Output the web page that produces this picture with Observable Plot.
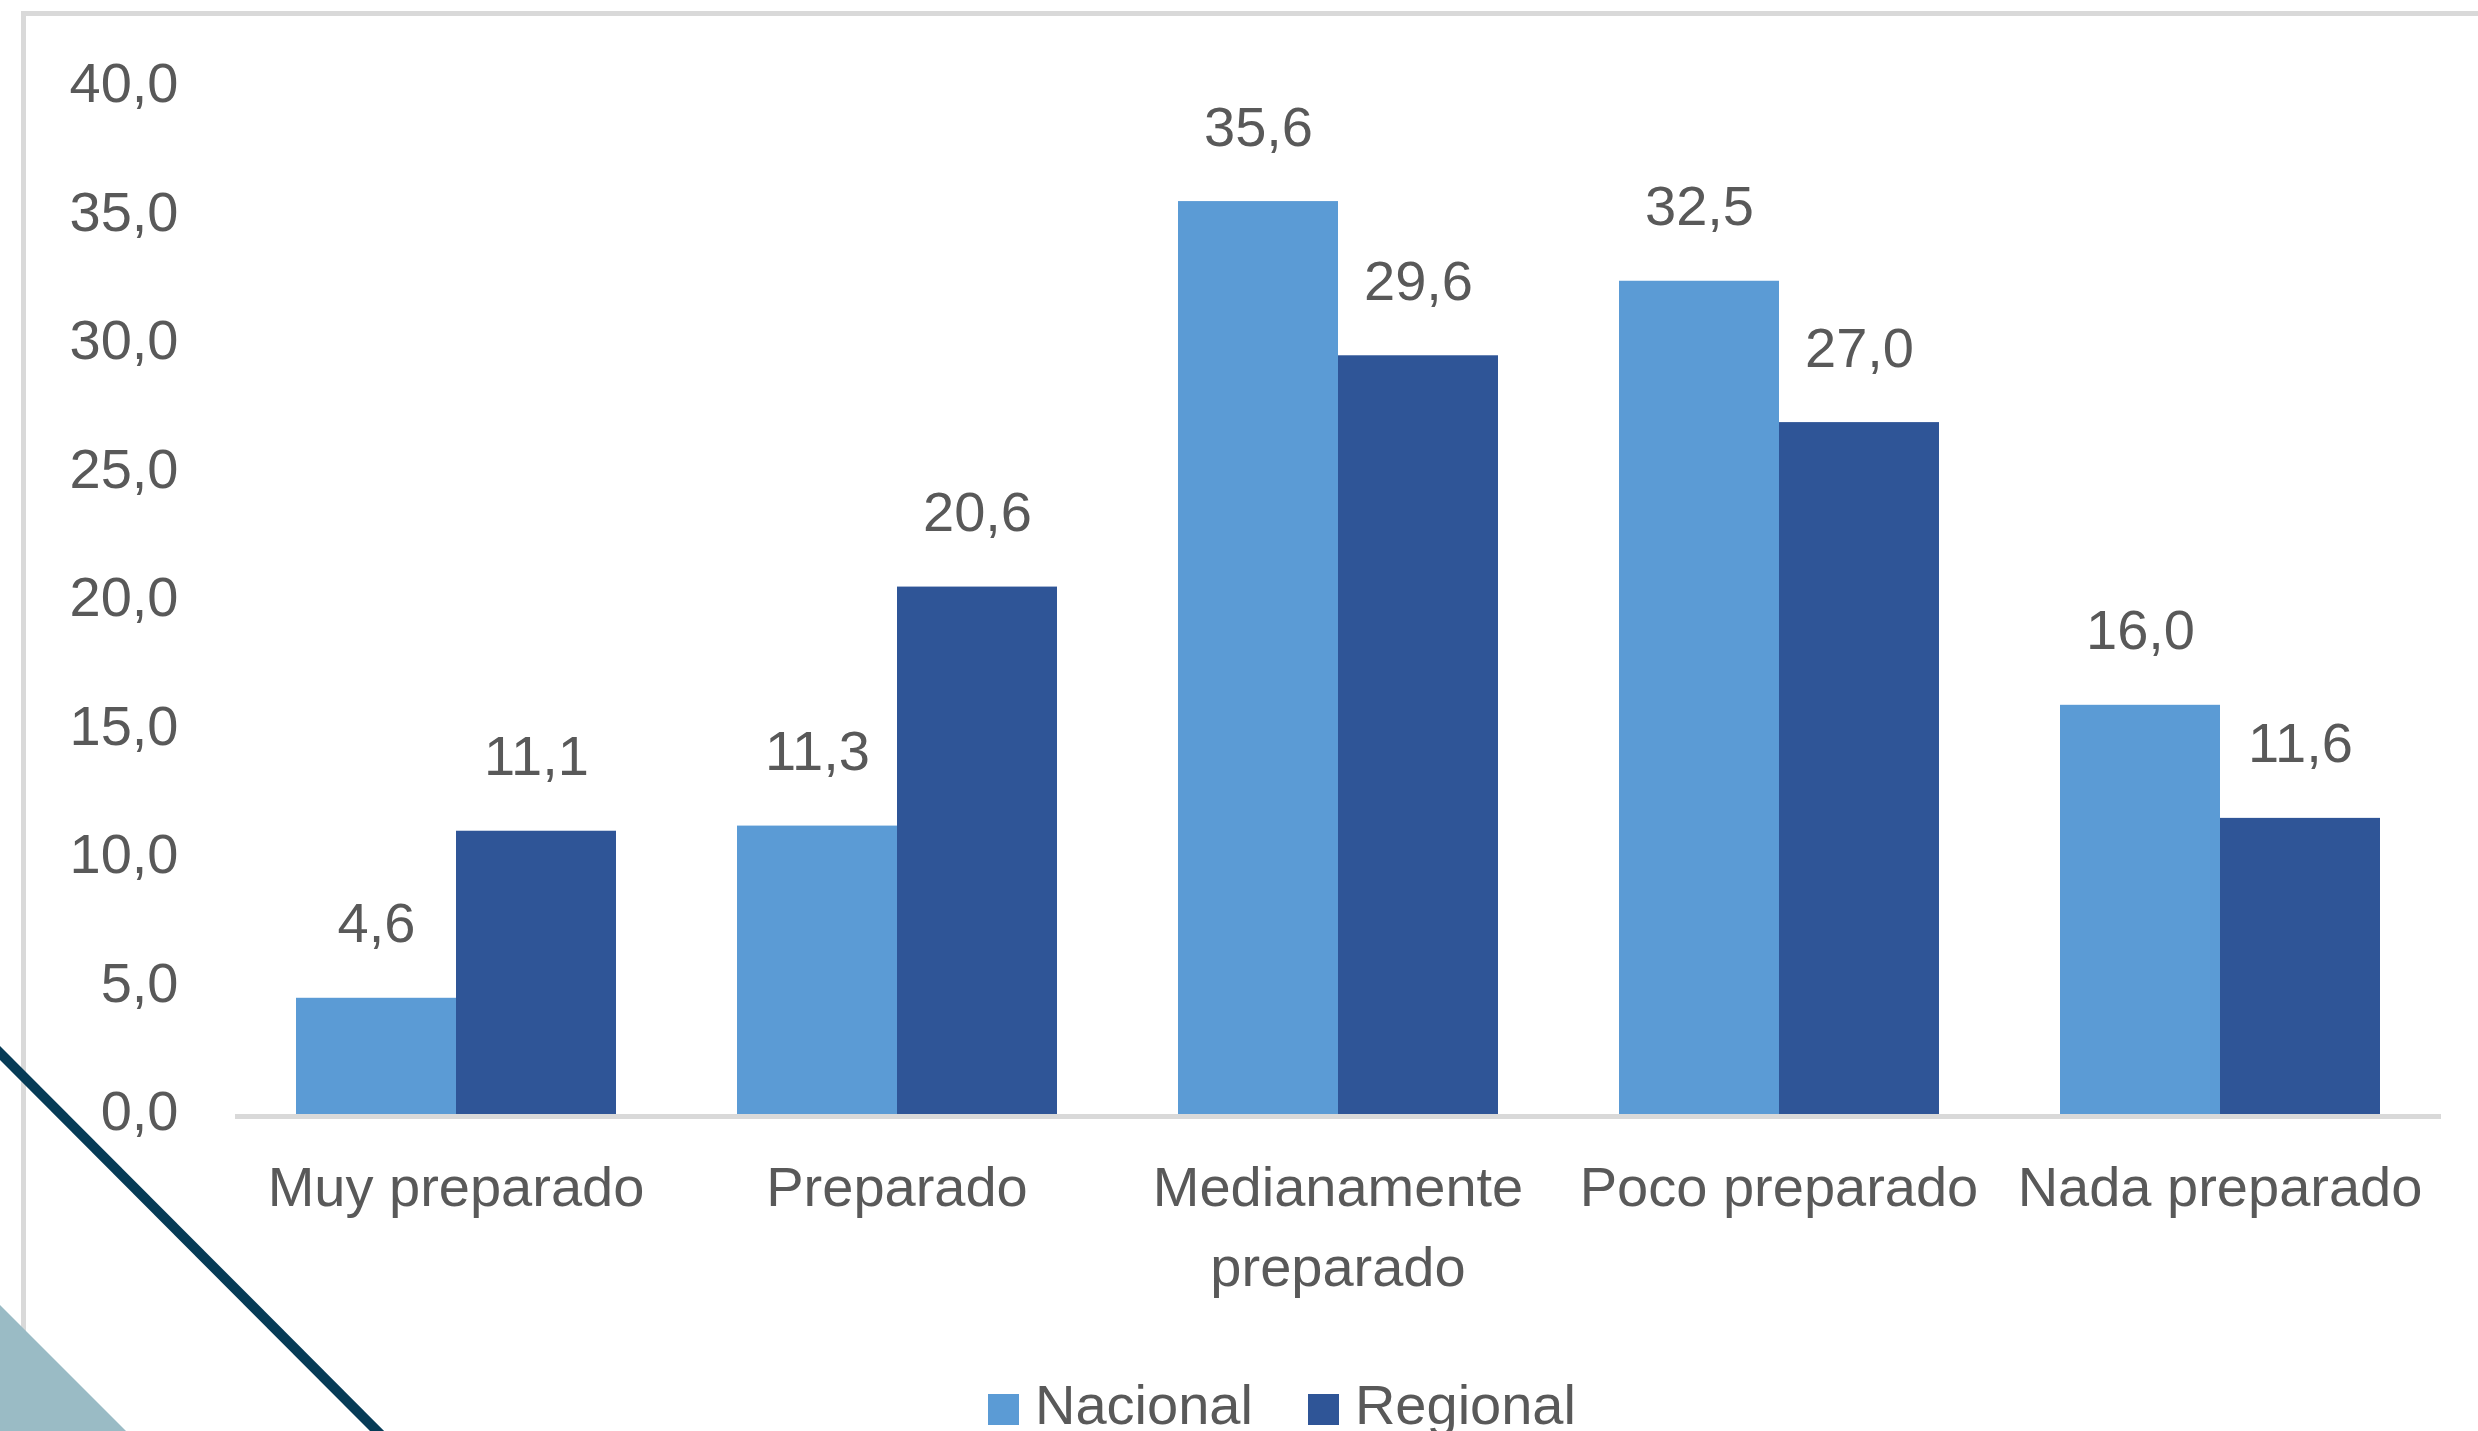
<!DOCTYPE html>
<html>
<head>
<meta charset="utf-8">
<script src="https://cdn.jsdelivr.net/npm/d3@7"></script>
<script src="https://cdn.jsdelivr.net/npm/@observablehq/plot@0.6"></script>
<style>
  html, body { margin: 0; padding: 0; background: #ffffff; overflow: hidden; }
  body { width: 2478px; height: 1431px; position: relative; font-family: "Liberation Sans", Arial, sans-serif; }
  #chart { position: absolute; left: 0; top: 0; }
  #border { position: absolute; left: 21px; top: 11px; width: 3000px; height: 3000px;
            border-top: 5px solid #d9d9d9; border-left: 5px solid #d9d9d9; pointer-events: none; z-index: 2; }
  #legend { display: flex; align-items: flex-start; margin-left: 988px; font-size: 56px; line-height: 56px; color: #595959; }
  #legend .item { display: flex; align-items: flex-start; margin-right: 55px; }
  #legend .sw { width: 31px; height: 31px; margin-top: 17px; margin-right: 16px; }
  #deco { position: absolute; left: 0; top: 0; z-index: 3; pointer-events: none; }
</style>
</head>
<body>
<div id="chart"></div>
<div id="border"></div>
<svg id="deco" width="2478" height="1431" viewBox="0 0 2478 1431">
  <polygon points="0,1305 0,1431 126,1431" fill="#9abbc5"/>
  <line x1="-10" y1="1043" x2="390" y2="1444" stroke="#063b56" stroke-width="10"/>
</svg>
<script>
const categories = ["Muy preparado", "Preparado", "Medianamente preparado", "Poco preparado", "Nada preparado"];
const tickLabels = ["Muy preparado", "Preparado", "Medianamente\npreparado", "Poco preparado", "Nada preparado"];
const series = ["Nacional", "Regional"];
const nacional = [4.6, 11.3, 35.6, 32.5, 16.0];
const regional = [11.1, 20.6, 29.6, 27.0, 11.6];
const yTicks = [0, 5, 10, 15, 20, 25, 30, 35, 40];
const colors = ["#5b9bd5", "#2f5597"];

const values = {Nacional: nacional, Regional: regional};
const data = categories.flatMap((c, i) => series.map(s => ({category: c, series: s, value: values[s][i]})));
const fmt = v => v.toFixed(1).replace(".", ",");
const textColor = "#595959";

const plot = Plot.plot({
  width: 2478,
  height: 1377,
  marginLeft: 234,
  marginRight: 36,
  marginTop: 88,
  marginBottom: 261,
  style: {fontFamily: "'Liberation Sans', Arial, sans-serif", fontSize: "56px", color: textColor, background: "transparent", overflow: "visible"},
  fx: {domain: categories, paddingInner: 0.271, paddingOuter: 0.1355, label: null},
  x: {domain: series, padding: 0, axis: null},
  y: {domain: [0, 40], axis: null},
  color: {domain: series, range: colors},
  marks: [
    Plot.axisY({ticks: yTicks, tickSize: 0, tickPadding: 117, tickFormat: fmt, fontSize: 56, fill: textColor, label: null, dy: -4}),
    Plot.axisFx({anchor: "bottom", tickSize: 0, tickPadding: 33, fontSize: 56, fill: textColor, label: null, lineHeight: 1.43,
                 tickFormat: d => tickLabels[categories.indexOf(d)]}),
    Plot.barY(data, {fx: "category", x: "series", y: "value", fill: "series"}),
    Plot.text(data, {fx: "category", x: "series", y: "value", text: d => fmt(d.value), lineAnchor: "middle", dy: -74, fill: textColor, fontSize: 56}),
    Plot.ruleY([0], {stroke: "#d9d9d9", strokeWidth: 5, insetLeft: -60, insetRight: -61})
  ]
});
const chart = document.getElementById("chart");
chart.appendChild(plot);

const legend = document.createElement("div");
legend.id = "legend";
series.forEach((s, i) => {
  const item = document.createElement("div");
  item.className = "item";
  const sw = document.createElement("div");
  sw.className = "sw";
  sw.style.background = colors[i];
  const label = document.createElement("span");
  label.textContent = s;
  item.appendChild(sw);
  item.appendChild(label);
  legend.appendChild(item);
});
chart.appendChild(legend);
</script>
</body>
</html>
